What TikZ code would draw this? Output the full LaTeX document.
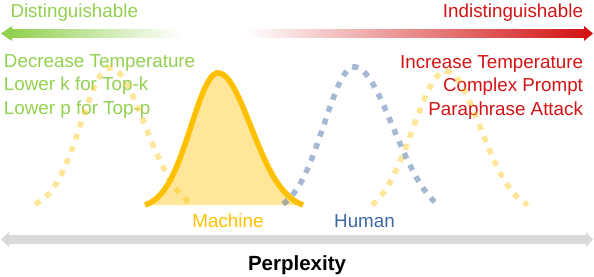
\documentclass[tikz,border=0pt]{standalone}
\usepackage{fontspec}
\setmainfont{Liberation Sans}
\definecolor{lgreen}{HTML}{92D050}
\definecolor{lred}{RGB}{210,20,20}
\definecolor{gold}{HTML}{FFC000}
\definecolor{bluecurve}{RGB}{58,100,160}
\definecolor{bluetext}{RGB}{60,105,165}
\definecolor{axisgray}{HTML}{D9D9D9}
\begin{document}
\begin{tikzpicture}[x=1pt,y=-1pt,
  lbl/.style={inner sep=0pt,outer sep=0pt,font=\fontsize{18.8}{22}\selectfont},
  dotcurve/.style={line width=5.5pt,dash pattern=on 6pt off 7pt,draw opacity=0.4},
  bell/.style n args={7}{insert path={
    plot[domain=#4:#1,samples=70] (\x,{#3-(#3-#2)*(exp(-((\x-#1)^2)/(2*#6*#6))-exp(-((#4-#1)^2)/(2*#6*#6)))/(1-exp(-((#4-#1)^2)/(2*#6*#6)))})
    -- plot[domain=#1:#5,samples=70] (\x,{#3-(#3-#2)*(exp(-((\x-#1)^2)/(2*#7*#7))-exp(-((#5-#1)^2)/(2*#7*#7)))/(1-exp(-((#5-#1)^2)/(2*#7*#7)))})
  }},
]
\useasboundingbox (0,0) rectangle (594,276);
% top arrows
\shade[left color=lgreen,right color=white] (11,29.5) rectangle (182,37.5);
\fill[lgreen] (1,33.5) -- (12,26) -- (12,41) -- cycle;
\shade[left color=white,right color=lred] (245,29.5) rectangle (585,37.5);
\fill[lred] (584,26) -- (593,33.5) -- (584,41) -- cycle;
% top labels
\node[lbl,lgreen,anchor=base west] (dist) at (10.5,17) {Distinguishable};
\node[lbl,lred,anchor=base east] (indist) at (583,17) {Indistinguishable};
\node[lbl,lgreen,anchor=base west] (l1) at (4,67) {Decrease Temperature};
\node[lbl,lgreen,anchor=base west] (l2) at (4,90.5) {Lower k for Top-k};
\node[lbl,lgreen,anchor=base west] (l3) at (4,114) {Lower p for Top-p};
\node[lbl,lred,anchor=base east] (r1) at (583,68) {Increase Temperature};
\node[lbl,lred,anchor=base east] (r2) at (583,91.5) {Complex Prompt};
\node[lbl,lred,anchor=base east] (r3) at (583,115) {Paraphrase Attack};
% machine curve
\fill[gold,opacity=0.4,bell={218}{73}{205}{147}{300}{27}{33}] -- cycle;
\draw[gold,line width=5.5pt,bell={218}{73}{205}{145}{303}{27}{33}];
% dotted curves
\draw[dotcurve,gold,bell={110}{68}{204}{35}{192}{29}{35}];
\draw[dotcurve,gold,bell={446}{71}{205}{372}{528}{33}{34}];
\draw[dotcurve,bluecurve,draw opacity=0.45,bell={354}{67}{204}{283}{437}{30}{39}];
% labels
\node[lbl,gold,anchor=base] (mach) at (228,227) {Machine};
\node[lbl,bluetext,anchor=base] (hum) at (364.5,227) {Human};
% axis
\fill[axisgray] (1,239.5) -- (9,232) -- (9,235) -- (586,235) -- (586,232) -- (593,239.5) -- (586,247) -- (586,244) -- (9,244) -- (9,247) -- cycle;
\node[lbl,anchor=base,font=\fontsize{20.5}{24}\selectfont\bfseries] (perp) at (297,270) {Perplexity};
\end{tikzpicture}
\end{document}
